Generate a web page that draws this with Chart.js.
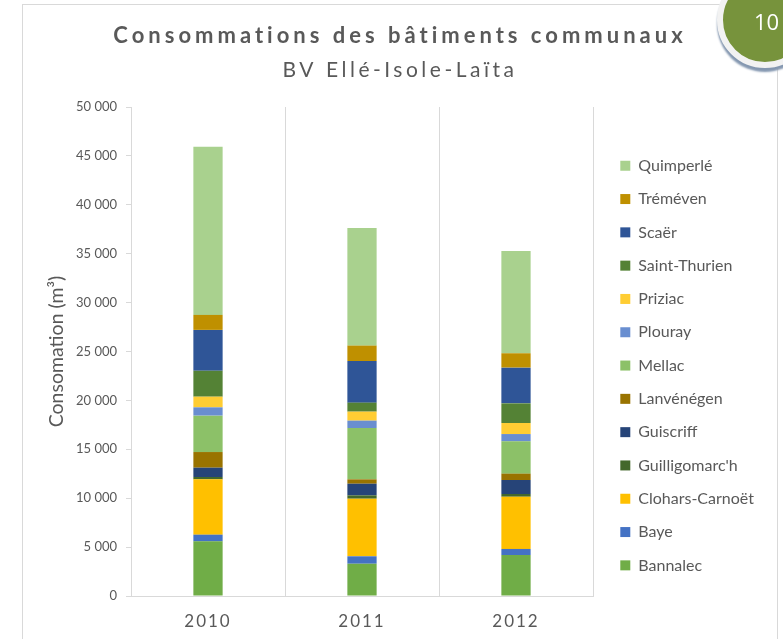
<!DOCTYPE html>
<html>
<head>
<meta charset="utf-8">
<script src="https://cdn.jsdelivr.net/npm/chart.js@4"></script>
<style>
  body { margin: 0; background: #fff; overflow: hidden; }
  #frame { position: absolute; left: 22px; top: 4px; width: 754px; height: 700px; border: 1px solid #d9d9d9; }
  #wrap { position: absolute; left: 0; top: 0; width: 783px; height: 639px; }
  #badge {
    position: absolute; left: 717px; top: -28px; width: 84px; height: 84px;
    border-radius: 50%; background: #77933c; border: 6px solid #f2f2f2;
    box-shadow: 0 4px 2px #8497b0;
    color: #fff; font: 22px "Open Sans", sans-serif;
  }
  #badge span { position: absolute; left: 31px; top: 28px; }
</style>
</head>
<body>
<div id="frame"></div>
<div id="wrap"><canvas id="c"></canvas></div>
<div id="badge"><span>10</span></div>
<script>
// categories
const years = ["2010", "2011", "2012"];

// m3 per year, bottom of the stack first
const bannalec = [5590, 3300, 4190];
const baye = [680, 760, 620];
const clohars = [5660, 5890, 5340];
const guilligomarch = [240, 340, 280];
const guiscriff = [950, 1190, 1430];
const lanvenegen = [1600, 450, 650];
const mellac = [3720, 5250, 3310];
const plouray = [850, 750, 740];
const priziac = [1090, 920, 1130];
const saintThurien = [2650, 920, 2010];
const scaer = [4180, 4260, 3650];
const tremeven = [1530, 1570, 1470];
const quimperle = [17200, 12030, 10460];

const TITLE = "Consommations des bâtiments communaux";
const SUBTITLE = "BV Ellé-Isole-Laïta";

const series = [
  ["Bannalec", bannalec, "#70ad47"],
  ["Baye", baye, "#4472c4"],
  ["Clohars-Carnoët", clohars, "#ffc000"],
  ["Guilligomarc'h", guilligomarch, "#43682b"],
  ["Guiscriff", guiscriff, "#264478"],
  ["Lanvénégen", lanvenegen, "#997300"],
  ["Mellac", mellac, "#8cc168"],
  ["Plouray", plouray, "#698ed0"],
  ["Priziac", priziac, "#ffcd33"],
  ["Saint-Thurien", saintThurien, "#548235"],
  ["Scaër", scaer, "#2f5597"],
  ["Tréméven", tremeven, "#bf9000"],
  ["Quimperlé", quimperle, "#a9d18e"],
];

Chart.defaults.font.family = "Lato";
Chart.defaults.color = "#595959";

// canvas has no letter-spacing option, so wrap the draw calls that need it
function spaced(obj, method, px) {
  const orig = obj[method];
  obj[method] = function () {
    const ctx = this.ctx;
    ctx.save();
    ctx.letterSpacing = px;
    orig.apply(this, arguments);
    ctx.restore();
  };
}

const tweaks = {
  id: "tweaks",
  afterInit(chart) {
    const fit = chart.legend.fit;
    chart.legend.fit = function () {
      fit.call(this);
      this.width = 174;
    };
  },
  afterLayout(chart) {
    if (chart.$spaced) return;
    chart.$spaced = true;
    chart.boxes.forEach(function (box) {
      if (box.options && box.options.text === TITLE) spaced(box, "draw", "4px");
      else if (box.options && box.options.text === SUBTITLE) spaced(box, "draw", "3.5px");
    });
    spaced(chart.scales.x, "drawLabels", "2px");
  },
};

const chart = new Chart(document.getElementById("c"), {
  type: "bar",
  data: {
    labels: years,
    datasets: series.map(function (s) {
      return {
        label: s[0],
        data: s[1],
        backgroundColor: s[2],
        borderWidth: 0,
        barPercentage: 0.19,
        categoryPercentage: 1,
      };
    }),
  },
  options: {
    responsive: true,
    maintainAspectRatio: false,
    animation: false,
    layout: { padding: { left: 23, right: 6, top: 0, bottom: 0 } },
    plugins: {
      tooltip: { enabled: false },
      title: {
        display: true,
        text: TITLE,
        color: "#595959",
        font: { size: 22, weight: "bold" },
        padding: { top: 22.5, bottom: 0 },
      },
      subtitle: {
        display: true,
        text: SUBTITLE,
        color: "#595959",
        font: { size: 21 },
        padding: { top: 9.2, bottom: 23.7 },
      },
      legend: {
        position: "right",
        reverse: true,
        title: { display: true, text: "", padding: { top: 77.7, bottom: 0 } },
        labels: {
          boxWidth: 10,
          boxHeight: 10,
          padding: 17.3,
          color: "#595959",
          font: { size: 16 },
        },
      },
    },
    scales: {
      x: {
        stacked: true,
        afterFit: function (s) { s.height = 43; },
        grid: { color: "#d9d9d9", drawTicks: false, tickLength: 0 },
        border: { color: "#d9d9d9" },
        ticks: { padding: 15.5, color: "#595959", font: { size: 17 } },
      },
      y: {
        stacked: true,
        min: 0,
        max: 50000,
        afterFit: function (s) { s.width = 108; },
        grid: { drawOnChartArea: false, drawTicks: true, tickLength: 5, color: "#d9d9d9" },
        border: { color: "#d9d9d9" },
        ticks: {
          stepSize: 5000,
          padding: 9,
          color: "#595959",
          font: { size: 13 },
          callback: function (v) { return String(v).replace(/\B(?=(\d{3})+(?!\d))/g, " "); },
        },
        title: {
          display: true,
          text: "Consomation (m³)",
          color: "#595959",
          font: { size: 19.5 },
          padding: { top: 22.3, bottom: 0 },
        },
      },
      y2: {
        position: "right",
        display: true,
        afterFit: function (s) { s.width = 10; },
        grid: { display: false },
        border: { display: false },
        ticks: { display: false },
      },
    },
  },
  plugins: [tweaks],
});
</script>
</body>
</html>
